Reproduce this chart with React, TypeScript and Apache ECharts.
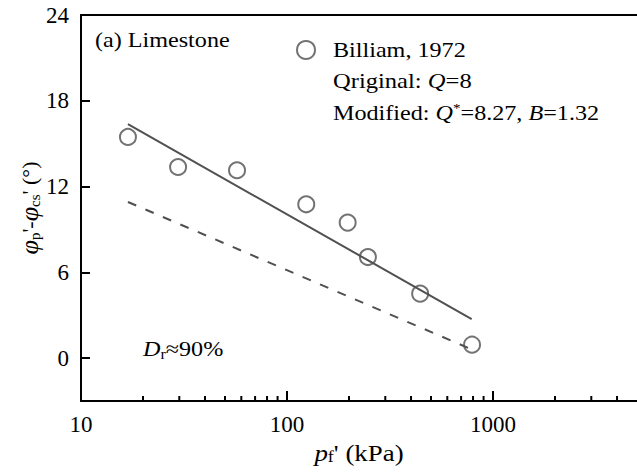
import React, { useEffect, useRef } from 'react';
import * as echarts from 'echarts';

// ---- data ----
const seriesName = 'Billiam, 1972';
const pressures = [16.9, 29.6, 57.2, 124, 197, 247, 443, 791];
const angleDiffs = [15.47, 13.37, 13.14, 10.76, 9.48, 7.07, 4.51, 0.94];
const modifiedLineX = [16.9, 788];
const modifiedLineY = [16.36, 2.73];
const originalLineX = [16.9, 788];
const originalLineY = [10.92, 0.61];
const xTickLabels = [10, 100, 1000];
const xMinorTicks = [20, 30, 40, 50, 60, 70, 80, 90, 200, 300, 400, 500, 600, 700, 800, 900, 2000, 3000, 4000];
const yTickValues = [0, 6, 12, 18, 24];
const X_MIN = 10;
const X_MAX = 5000;
const Y_MIN = -3;
const Y_MAX = 24;

const FONT = 'Liberation Serif';
const GRAY = '#505050';

export default function App() {
  const ref = useRef<HTMLDivElement>(null);

  useEffect(() => {
    if (!ref.current) return;
    const chart = echarts.init(ref.current, null, { renderer: 'svg' });

    const axisLineStyle = { color: '#000', width: 2 };

    const txt = (
      x: number,
      y: number,
      text: string,
      fontSize: number,
      align: string,
      rich: any,
      extra: any = {}
    ) => ({
      type: 'text',
      x,
      y,
      silent: true,
      ...extra,
      style: {
        text,
        fontSize,
        fontFamily: FONT,
        fill: '#000',
        align,
        textAlign: align,
        verticalAlign: 'middle',
        textVerticalAlign: 'middle',
        lineHeight: 24,
        rich,
      },
    });

    const italic = (fs: number) => ({ fontSize: fs, fontFamily: FONT, fontStyle: 'italic', lineHeight: 24 });

    const option: any = {
      animation: false,
      textStyle: { fontFamily: FONT },
      grid: { left: 81, right: 0, top: 15, bottom: 75, outerBoundsMode: 'none' },
      xAxis: [
        {
          type: 'log',
          logBase: 10,
          min: X_MIN,
          max: X_MAX,
          position: 'bottom',
          axisLine: { show: true, onZero: false, lineStyle: axisLineStyle },
          axisTick: { show: true, inside: true, length: 10, lineStyle: { color: '#000', width: 2 } },
          minorTick: { show: false },
          axisLabel: {
            show: true,
            margin: 12,
            fontSize: 23,
            fontFamily: FONT,
            color: '#000',
            showMaxLabel: false,
            formatter: (v: number) => {
              const r = Math.round(v);
              return xTickLabels.includes(r) ? String(r) : '';
            },
          },
          splitLine: { show: false },
        },
        {
          type: 'log',
          logBase: 10,
          min: X_MIN,
          max: X_MAX,
          position: 'top',
          axisLine: { show: true, onZero: false, lineStyle: axisLineStyle },
          axisTick: { show: false },
          axisLabel: { show: false },
          splitLine: { show: false },
        },
      ],
      yAxis: {
        type: 'value',
        min: Y_MIN,
        max: Y_MAX,
        axisLine: { show: true, onZero: false, lineStyle: axisLineStyle },
        axisTick: {
          show: true,
          inside: true,
          length: 9,
          customValues: yTickValues,
          lineStyle: { color: '#000', width: 2 },
        },
        axisLabel: {
          show: true,
          customValues: yTickValues,
          margin: 12,
          fontSize: 23,
          fontFamily: FONT,
          color: '#000',
        },
        splitLine: { show: false },
      },
      legend: {
        data: [seriesName],
        left: 285,
        top: 40,
        padding: 0,
        itemWidth: 42,
        itemHeight: 18,
        selectedMode: false,
        formatter: () => '',
        textStyle: { fontSize: 21, fontFamily: FONT, color: '#000' },
      },
      series: [
        {
          type: 'line',
          name: 'modified',
          data: modifiedLineX.map((x, i) => [x, modifiedLineY[i]]),
          symbol: 'none',
          lineStyle: { color: GRAY, width: 2 },
          silent: true,
          z: 2,
        },
        {
          type: 'line',
          name: 'original',
          data: originalLineX.map((x, i) => [x, originalLineY[i]]),
          symbol: 'none',
          lineStyle: { color: GRAY, width: 2, type: [9, 10] },
          silent: true,
          z: 2,
        },
        {
          type: 'scatter',
          name: seriesName,
          data: pressures.map((p, i) => [p, angleDiffs[i]]),
          symbol: 'circle',
          symbolSize: 16,
          itemStyle: { color: 'rgba(255,255,255,0)', borderColor: GRAY, borderWidth: 2 },
          z: 3,
        },
        {
          type: 'custom',
          name: 'minorTicks',
          coordinateSystem: 'cartesian2d',
          silent: true,
          clip: false,
          data: xMinorTicks.map((v) => [v, Y_MIN]),
          renderItem: (params: any, api: any) => {
            const p = api.coord([api.value(0), api.value(1)]);
            return {
              type: 'line',
              shape: { x1: p[0], y1: p[1], x2: p[0], y2: p[1] - 5 },
              style: { stroke: '#000', lineWidth: 2 },
            };
          },
          z: 4,
        },
      ],
      graphic: [
        txt(95, 40, '(a) Limestone', 21, 'left', {}, { scaleX: 1.15 }),
        txt(333, 50, seriesName, 21, 'left', {}, { scaleX: 1.15 }),
        txt(333, 81, 'Qriginal: {i|Q}=8', 21, 'left', { i: italic(21) }, { scaleX: 1.17 }),
        txt(
          333,
          113,
          'Modified: {i|Q}{sup|*}=8.27, {i|B}=1.32',
          21,
          'left',
          {
            i: italic(21),
            sup: { fontSize: 13, fontFamily: FONT, lineHeight: 20, verticalAlign: 'top' },
          },
          { scaleX: 1.15 }
        ),
        txt(
          143,
          349,
          '{i|D}{sub|r}≈90%',
          21,
          'left',
          {
            i: italic(21),
            sub: { fontSize: 14, fontFamily: FONT, lineHeight: 2, verticalAlign: 'bottom' },
          },
          { scaleX: 1.15 }
        ),
        txt(
          359,
          453,
          "{i|p}{sub|f}' (kPa)",
          24,
          'center',
          {
            i: italic(24),
            sub: { fontSize: 16, fontFamily: FONT, lineHeight: 8, verticalAlign: 'bottom' },
          },
          { scaleX: 1.12 }
        ),
        {
          type: 'text',
          x: 29,
          y: 208,
          rotation: Math.PI / 2,
          silent: true,
          style: {
            text: "{phi|φ}{sub|p}'-{phi|φ}{sub|cs}' (°)",
            fontSize: 22,
            fontFamily: FONT,
            fill: '#000',
            align: 'center',
            textAlign: 'center',
            verticalAlign: 'middle',
            textVerticalAlign: 'middle',
            lineHeight: 26,
            rich: {
              phi: { fontSize: 26, fontFamily: FONT, fontStyle: 'italic', lineHeight: 26 },
              sub: { fontSize: 15, fontFamily: FONT, lineHeight: 8, verticalAlign: 'bottom' },
            },
          },
        },
      ],
    };

    chart.setOption(option);
    return () => {
      chart.dispose();
    };
  }, []);

  return (
    <div
      ref={ref}
      style={{ position: 'absolute', left: 0, top: 0, width: 637, height: 476, background: '#fff' }}
    />
  );
}
